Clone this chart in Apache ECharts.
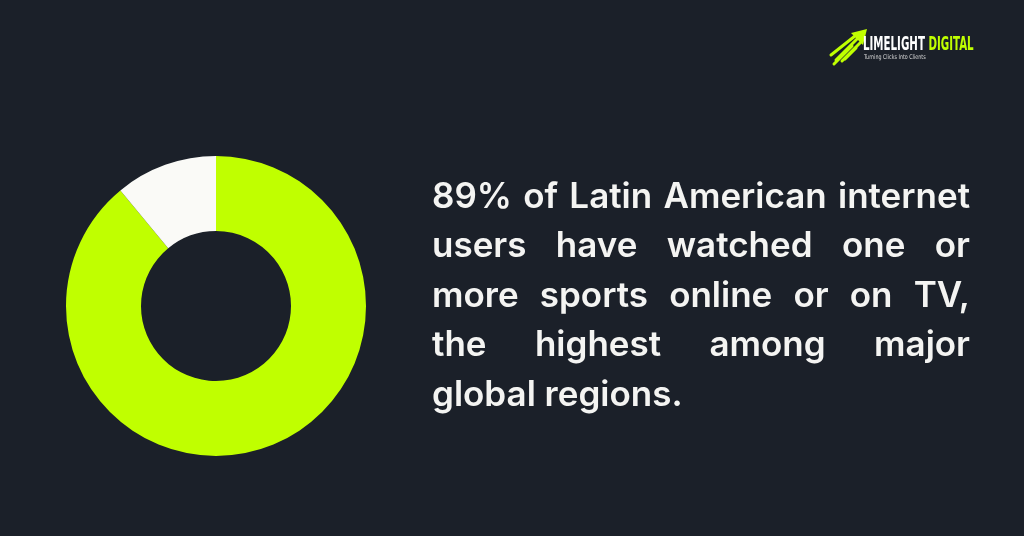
<!DOCTYPE html>
<html>
<head>
<meta charset="utf-8">
<script src="https://cdn.jsdelivr.net/npm/echarts@6/dist/echarts.min.js"></script>
<style>
  html, body { margin: 0; padding: 0; background: #1b2029; }
  #main { width: 1024px; height: 536px; }
</style>
</head>
<body>
<div id="main"></div>
<script>
// donut data
var sliceNames = ["Watched sports", "Other"];
var sliceValues = [89, 11];
var sliceColors = ["#c0ff00", "#fafaf7"];

// statement text, one entry per line
var textLines = [
  "89% of Latin American internet",
  "users have watched one or",
  "more sports online or on TV,",
  "the highest among major",
  "global regions."
];

var myChart = echarts.init(document.getElementById("main"), null, { renderer: "canvas" });

var FONT = "600 35px Inter";
var ctx = document.createElement("canvas").getContext("2d");
ctx.font = FONT;

// justify each line (last one left aligned) by placing words
function buildText() {
  var left = 432, right = 970, top = 197, lh = 49.5;
  var els = [];
  textLines.forEach(function (line, i) {
    var words = line.split(" ");
    var y = top + i * lh;
    if (i == textLines.length - 1 || words.length < 2) {
      els.push({
        type: "text", x: left, y: y,
        style: { text: line, font: FONT, fill: "#f4f4f2", verticalAlign: "middle" }
      });
      return;
    }
    var total = 0;
    words.forEach(function (w) { total += ctx.measureText(w).width; });
    var gap = (right - left - total) / (words.length - 1);
    var x = left;
    words.forEach(function (w) {
      els.push({
        type: "text", x: x, y: y,
        style: { text: w, font: FONT, fill: "#f4f4f2", verticalAlign: "middle" }
      });
      x += ctx.measureText(w).width + gap;
    });
  });
  return els;
}

function buildLogo() {
  var lime = "#c0ff00";
  var els = [];
  // arrow head
  els.push({ type: "polygon", shape: { points: [[867, 29], [851, 33], [863, 45]] }, style: { fill: lime } });
  // streaks
  var streaks = [
    [[858, 38], [836, 60]],
    [[861, 42], [842, 61]],
    [[855, 36], [831, 55]],
    [[852, 46], [834, 64]],
    [[856, 48], [845, 59]]
  ];
  streaks.forEach(function (s) {
    els.push({ type: "line", shape: { x1: s[0][0], y1: s[0][1], x2: s[1][0], y2: s[1][1] }, style: { stroke: lime, lineWidth: 3, lineCap: "round" } });
  });
  els.push({
    type: "text", x: 863, y: 45, scaleX: 0.6,
    style: {
      text: "{a|LIMELIGHT} {b|DIGITAL}",
      font: "bold 19px 'DejaVu Sans Condensed'",
      verticalAlign: "middle",
      rich: {
        a: { font: "bold 19px 'DejaVu Sans Condensed'", fill: "#ffffff" },
        b: { font: "bold 19px 'DejaVu Sans Condensed'", fill: lime }
      }
    }
  });
  els.push({
    type: "text", x: 864, y: 57, scaleX: 0.82,
    style: { text: "Turning Clicks Into Clients", font: "6.5px 'DejaVu Sans Condensed'", fill: "#d8d8d8", verticalAlign: "middle" }
  });
  return els;
}

var option = {
  backgroundColor: "#1b2029",
  animation: false,
  graphic: buildText().concat(buildLogo()),
  series: [
    {
      type: "pie",
      center: [216, 306],
      radius: [75, 150],
      startAngle: 90,
      clockwise: true,
      label: { show: false },
      labelLine: { show: false },
      emphasis: { disabled: true },
      itemStyle: { borderWidth: 0 },
      data: sliceNames.map(function (n, i) {
        return { name: n, value: sliceValues[i], itemStyle: { color: sliceColors[i] } };
      })
    }
  ]
};
myChart.setOption(option);
</script>
</body>
</html>
